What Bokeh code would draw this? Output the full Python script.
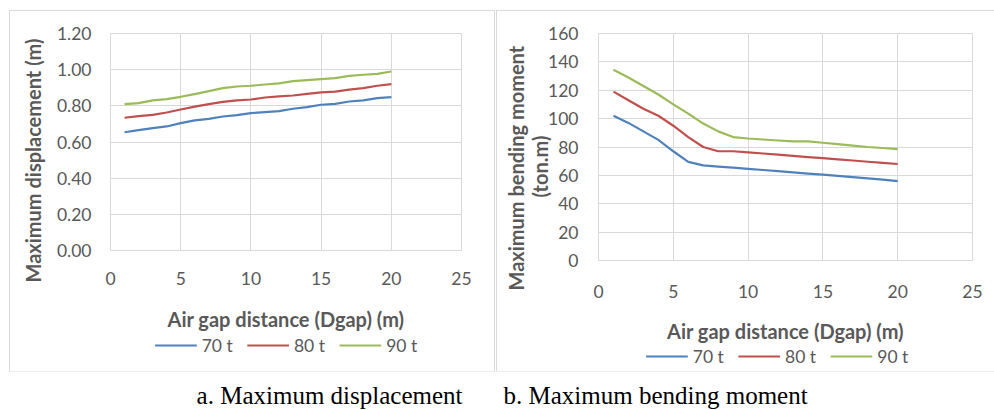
from bokeh.plotting import figure
from bokeh.models import (Range1d, FixedTicker, NumeralTickFormatter, Title, Spacer)
from bokeh.layouts import column, row
from bokeh.core.properties import value
from bokeh.embed import file_html
from bokeh.resources import INLINE

# ---------------- data ----------------
gap = [1, 2, 3, 4, 5, 6, 7, 8, 9, 10, 11, 12, 13, 14, 15, 16, 17, 18, 19, 20]
series_names = ["70 t", "80 t", "90 t"]

disp_70 = [0.654, 0.666, 0.677, 0.686, 0.704, 0.720, 0.728, 0.741, 0.749, 0.760,
           0.765, 0.771, 0.784, 0.793, 0.806, 0.811, 0.824, 0.830, 0.843, 0.848]
disp_80 = [0.734, 0.743, 0.750, 0.763, 0.780, 0.796, 0.809, 0.822, 0.830, 0.835,
           0.846, 0.852, 0.857, 0.866, 0.874, 0.879, 0.890, 0.898, 0.911, 0.920]
disp_90 = [0.809, 0.815, 0.830, 0.837, 0.850, 0.865, 0.881, 0.898, 0.907, 0.911,
           0.918, 0.924, 0.937, 0.942, 0.948, 0.953, 0.966, 0.972, 0.977, 0.990]

mom_70 = [102, 97, 91, 85, 77, 69.5, 67, 66.2, 65.5, 64.6,
          63.8, 63, 62.1, 61.3, 60.5, 59.6, 58.8, 57.9, 57, 56]
mom_80 = [119, 113, 107, 102, 95, 87, 80, 77, 77, 76.2,
          75.4, 74.6, 73.7, 72.9, 72.1, 71.3, 70.5, 69.6, 68.8, 68]
mom_90 = [134.5, 129, 123, 117, 110, 103.5, 96.5, 91, 87, 86,
          85.3, 84.6, 84, 84, 83, 82, 81, 80, 79.3, 78.5]

x_ticks = [0, 5, 10, 15, 20, 25]
disp_ticks = [0, 0.2, 0.4, 0.6, 0.8, 1.0, 1.2]
mom_ticks = [0, 20, 40, 60, 80, 100, 120, 140, 160]

x_title = "Air gap distance (Dgap) (m)"
disp_title = "Maximum displacement (m)"
mom_title_1 = "Maximum bending moment"
mom_title_2 = "(ton.m)"
caption_a = "a. Maximum displacement"
caption_b = "b.  Maximum bending moment"

# ---------------- style ----------------
COLORS = ["#4F81BD", "#C0504D", "#9BBB59"]
FONT = "Lato"
GREY = "#595959"
GRID = "#D9D9D9"
TICK_FS = "17.5px"
TITLE_FS = "20px"
BOX = {"outline": "1px solid #D9D9D9"}


def make_chart(w, h, y_max, yticks, yfmt, series, mb_left, mb_right, mb_top, mb_bottom,
               xs1, xs2, ys1):
    p = figure(width=w, height=h, x_range=Range1d(0, 25), y_range=Range1d(0, y_max),
               toolbar_location=None, output_backend="svg",
               min_border_left=mb_left, min_border_right=mb_right,
               min_border_top=mb_top, min_border_bottom=mb_bottom)
    p.background_fill_color = "white"
    p.border_fill_color = "white"
    p.outline_line_color = GRID

    for ax in (p.xaxis[0], p.yaxis[0]):
        ax.axis_line_color = None
        ax.major_tick_line_color = None
        ax.minor_tick_line_color = None
        ax.major_tick_out = 0
        ax.major_tick_in = 0
        ax.minor_tick_out = 0
        ax.minor_tick_in = 0
        ax.major_label_text_font = FONT
        ax.major_label_text_font_size = TICK_FS
        ax.major_label_text_color = GREY

    p.xaxis.ticker = FixedTicker(ticks=x_ticks)
    p.yaxis.ticker = FixedTicker(ticks=yticks)
    p.yaxis.formatter = NumeralTickFormatter(format=yfmt)
    p.xaxis.major_label_standoff = xs1
    p.yaxis.major_label_standoff = ys1
    p.xaxis.axis_label = x_title
    p.xaxis.axis_label_standoff = xs2
    p.xaxis.axis_label_text_font = FONT
    p.xaxis.axis_label_text_font_size = TITLE_FS
    p.xaxis.axis_label_text_font_style = "bold"
    p.xaxis.axis_label_text_color = GREY

    p.xgrid.grid_line_color = GRID
    p.ygrid.grid_line_color = GRID

    for ys, col in zip(series, COLORS):
        p.line(gap, ys, line_color=col, line_width=2.2, line_join="round")
    return p


def make_legend_fig(w, h, frame_l, frame_r, x_start, y_mid, step=93, glyph_w=42, standoff=5):
    # pixel-unit strip holding the legend keys; its frame lines up with the chart's frame
    lf = figure(width=w, height=h, x_range=Range1d(frame_l, frame_r), y_range=Range1d(0, h),
                toolbar_location=None, output_backend="svg", min_border=0,
                min_border_left=frame_l, min_border_right=w - frame_r,
                x_axis_location=None, y_axis_location=None)
    lf.grid.visible = False
    lf.outline_line_color = None
    lf.background_fill_color = "white"
    lf.border_fill_color = "white"
    for i, (name, col) in enumerate(zip(series_names, COLORS)):
        x0 = x_start + i * step
        lf.segment(x0=[x0], y0=[y_mid], x1=[x0 + glyph_w], y1=[y_mid],
                   line_color=col, line_width=2.2)
        lf.text(x=[x0 + glyph_w + standoff], y=[y_mid], text=[name],
                text_align="left", text_baseline="middle",
                text_font=value(FONT), text_font_size=TICK_FS, text_color=GREY)
    return lf


def ytitle(text, offset, standoff):
    return Title(text=text, align="left", offset=offset, standoff=standoff,
                 text_font=FONT, text_font_size=TITLE_FS, text_font_style="bold",
                 text_color=GREY)


# left chart
p1 = make_chart(484, 323, 1.2, disp_ticks, "0.00", [disp_70, disp_80, disp_90],
                97, 33, 22, 84, 21, 19, 19)
p1.add_layout(ytitle(disp_title, -32, 17), "left")
l1 = make_legend_fig(484, 37, 97, 451, 142, 26)
box1 = column(p1, l1, spacing=0)
box1.styles = BOX

# right chart
p2 = make_chart(497, 334, 160, mom_ticks, "0", [mom_70, mom_80, mom_90],
                98, 22, 22, 85, 24, 18, 20)
p2.add_layout(ytitle(mom_title_2, 63, -12), "left")
p2.add_layout(ytitle(mom_title_1, -30, 8), "left")
l2 = make_legend_fig(497, 26, 98, 475, 146, 15)
box2 = column(p2, l2, spacing=0)
box2.styles = BOX

# caption
cap = figure(width=994, height=38, x_range=Range1d(0, 994), y_range=Range1d(0, 38),
             toolbar_location=None, output_backend="svg", min_border=0,
             x_axis_location=None, y_axis_location=None)
cap.grid.visible = False
cap.outline_line_color = None
cap.background_fill_color = "white"
cap.border_fill_color = "white"
cap.text(x=[462], y=[14], text=[caption_a], text_align="right", text_baseline="middle",
         text_font=value("Liberation Serif"), text_font_size="25px", text_color="black")
cap.text(x=[503], y=[14], text=[caption_b], text_align="left", text_baseline="middle",
         text_font=value("Liberation Serif"), text_font_size="25px", text_color="black")

charts = row(Spacer(width=10, height=360), box1, Spacer(width=3, height=360), box2, spacing=0)
layout = column(Spacer(width=994, height=11), charts, cap, spacing=0)

open("out.html", "w").write(file_html(layout, INLINE))
